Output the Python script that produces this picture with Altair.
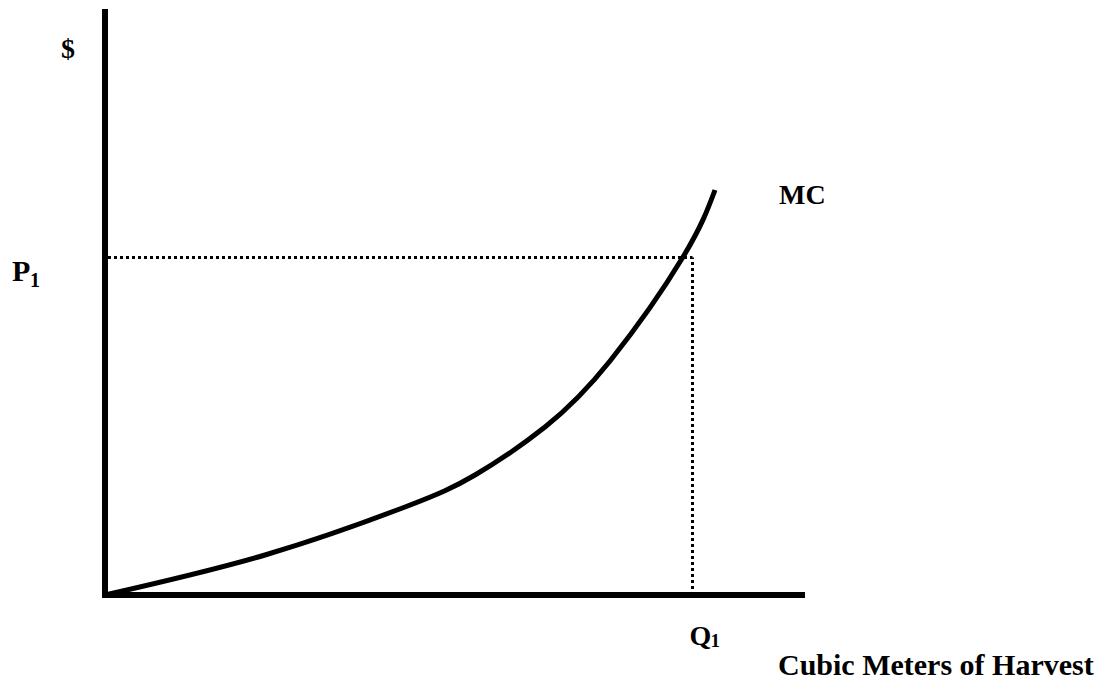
import altair as alt
import pandas as pd

# Marginal cost curve (quantity of harvest vs $)
q = [0, 160, 300, 370, 440, 505, 578, 610]
mc = [0, 40, 88, 120, 168, 234, 338, 405]

# Equilibrium values
p1 = 337.5
q1 = 587.5

df = pd.DataFrame({"q": q, "mc": mc})

xs = alt.Scale(domain=[0, 700], nice=False, zero=False)
ys = alt.Scale(domain=[0, 586], nice=False, zero=False)

FONT = "Liberation Serif"

curve = alt.Chart(df).mark_line(color="black", strokeWidth=5, interpolate="natural").encode(
    x=alt.X("q:Q", scale=xs, axis=None),
    y=alt.Y("mc:Q", scale=ys, axis=None),
)

base = alt.Chart(pd.DataFrame({"a": [0]}))

x_axis = base.mark_rule(color="black", strokeWidth=6).encode(
    x=alt.datum(-3), x2=alt.datum(700), y=alt.datum(0)
)
y_axis = base.mark_rule(color="black", strokeWidth=6).encode(
    x=alt.datum(0), y=alt.datum(-3), y2=alt.datum(586)
)

h_dot = base.mark_rule(color="black", strokeWidth=3, strokeDash=[3, 3]).encode(
    x=alt.datum(3), x2=alt.datum(q1), y=alt.datum(p1)
)
v_dot = base.mark_rule(color="black", strokeWidth=3, strokeDash=[3, 3]).encode(
    x=alt.datum(q1), y=alt.datum(0), y2=alt.datum(p1)
)

def label(text, x, y, size=28, align="left"):
    return base.mark_text(
        text=text, font=FONT, fontWeight="bold", fontSize=size, align=align,
        baseline="alphabetic", color="black"
    ).encode(x=alt.datum(x), y=alt.datum(y))

labels = [
    label("$", -37, 537, 28, "center"),
    label("MC", 674, 391, 28),
    label("P", -93, p1 - 23, 30),
    label("1", -75, p1 - 29, 20),
    label("Q", q1 - 3, -50, 28),
    label("1", q1 + 18, -52, 19),
    label("Cubic Meters of Harvest", 673, -80, 30),
]

chart = alt.layer(curve, x_axis, y_axis, h_dot, v_dot, *labels).properties(
    width=700,
    height=586,
    autosize=alt.AutoSizeParams(type="none"),
    padding={"left": 97, "top": 1, "right": 290, "bottom": 85},
).configure_view(stroke=None)

chart.save("out.html", embed_options={"renderer": "svg", "actions": False})
